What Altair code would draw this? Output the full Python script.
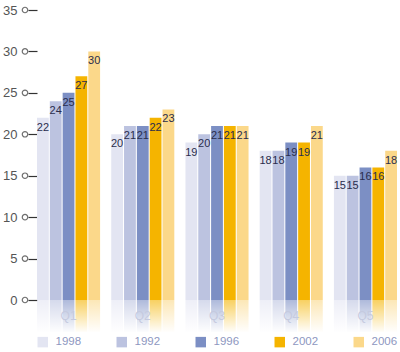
import altair as alt
import pandas as pd

quarters = ["Q1", "Q2", "Q3", "Q4", "Q5"]
series = ["1998", "1992", "1996", "2002", "2006"]
colors = ["#e3e5f2", "#bcc3e0", "#7c8fc4", "#f5b400", "#fbd88a"]
values = {
    "1998": [22, 20, 19, 18, 15],
    "1992": [24, 21, 20, 18, 15],
    "1996": [25, 21, 21, 19, 16],
    "2002": [27, 22, 21, 19, 16],
    "2006": [30, 23, 21, 21, 18],
}
y_ticks = [0, 5, 10, 15, 20, 25, 30, 35]

rows = []
for s in series:
    for q, v in zip(quarters, values[s]):
        rows.append({"quarter": q, "series": s, "value": v})
df = pd.DataFrame(rows)

W, H = 360, 290
FONT = "Liberation Sans"

x_enc = alt.X("quarter:N", sort=quarters,
              scale=alt.Scale(paddingInner=0.15, paddingOuter=0),
              axis=alt.Axis(title=None, labelAngle=0, domain=False, ticks=False,
                            labelColor="#c5cadf", labelFontSize=12, labelFont=FONT,
                            labelPadding=10, zindex=1))
xoff = alt.XOffset("series:N", sort=series, scale=alt.Scale(paddingInner=0.08))
color_enc = alt.Color("series:N", sort=series,
                      scale=alt.Scale(domain=series, range=colors),
                      legend=alt.Legend(title=None, orient="bottom", direction="horizontal",
                                        symbolType="square", symbolSize=110, symbolStrokeWidth=0,
                                        symbolOpacity=1,
                                        labelFontSize=11.5, labelFont=FONT, labelColor="#8e97bf",
                                        labelOffset=7, columnPadding=34, offset=15))
y_scale = alt.Scale(domain=[0, 35])

base = alt.Chart(df)

reflect = base.mark_bar(opacity=0.65).encode(
    x=x_enc, xOffset=xoff, color=color_enc,
    y=alt.value(H), y2=alt.value(H + 32),
)

fade = alt.Chart(pd.DataFrame({"a": [0]})).mark_rect(
    color=alt.Gradient(gradient="linear",
                       stops=[alt.GradientStop(color="rgba(255,255,255,0.05)", offset=0),
                              alt.GradientStop(color="rgba(255,255,255,1)", offset=1)],
                       x1=0, x2=0, y1=0, y2=1)
).encode(x=alt.value(0), x2=alt.value(W), y=alt.value(H), y2=alt.value(H + 33))

bars = base.mark_bar().encode(
    x=x_enc, xOffset=xoff, color=color_enc,
    y=alt.Y("value:Q", scale=y_scale,
            axis=alt.Axis(title=None, values=y_ticks, grid=False, domain=False,
                          tickSize=9, tickColor="#333333", tickWidth=1.2, tickOffset=0,
                          labelColor="#555555", labelFontSize=13, labelFont=FONT,
                          labelPadding=11)),
)

labels = base.mark_text(baseline="top", dy=4, fontSize=11, font=FONT, color="#2a2d4d").encode(
    x=x_enc, xOffset=xoff, y=alt.Y("value:Q", scale=y_scale), text="value:Q",
)

tick_df = pd.DataFrame({"t": y_ticks})
markers = alt.Chart(tick_df).mark_point(shape="circle", filled=True, fill="white",
                                        stroke="#333333", strokeWidth=1.2, size=30,
                                        clip=False).encode(
    x=alt.value(-12), y=alt.Y("t:Q", scale=y_scale),
)

chart = alt.layer(reflect, fade, bars, labels, markers).properties(
    width=W, height=H,
    autosize=alt.AutoSizeParams(type="none"),
    padding={"left": 37, "top": 10, "right": 3, "bottom": 52},
    background="white",
).configure_view(strokeWidth=0, stroke="transparent")

chart.save("out.html", embed_options={"renderer": "svg", "actions": False})
